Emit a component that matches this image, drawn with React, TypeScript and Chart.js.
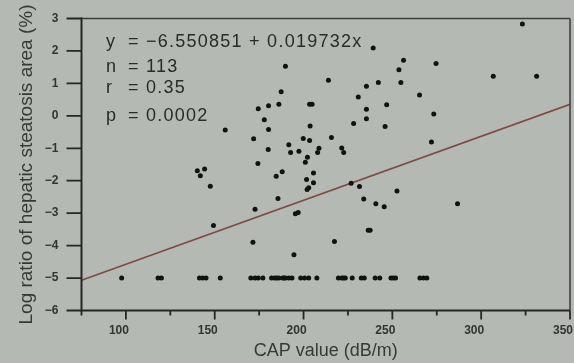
import React, { useEffect, useRef } from "react";
import { Chart, registerables } from "chart.js";

Chart.register(...registerables);

// CAP value (dB/m) and log ratio for patients with measurable steatosis
const capAbove = [
  323.2, 239.2, 256.3, 274.6, 189.8, 253.7, 306.8, 331.2, 214.0, 242.1,
  254.8, 235.4, 187.4, 265.3, 230.8, 186.1, 180.3, 174.5, 203.4, 204.8,
  246.8, 235.4, 273.3, 235.4, 177.9, 228.2, 203.7, 245.9, 155.9, 180.3,
  171.9, 199.8, 215.7, 203.4, 272.0, 191.7, 208.7, 221.5, 180.1, 192.7,
  197.4, 207.9, 222.6, 202.2, 201.0, 174.3, 144.3, 140.2, 141.9, 188.0,
  184.6, 205.6, 201.7, 205.6, 202.9, 202.0, 226.8, 231.5, 147.5, 252.6,
  185.6, 233.9, 240.7, 286.7, 245.4, 172.7, 195.4, 197.0, 149.3, 236.4,
  237.5, 171.5, 217.4, 194.6,
];
const ratioAbove = [
  2.83, 2.09, 1.71, 1.61, 1.53, 1.42, 1.22, 1.22, 1.1, 1.03,
  1.03, 0.91, 0.74, 0.64, 0.58, 0.36, 0.31, 0.22, 0.36, 0.36,
  0.34, 0.2, 0.06, -0.09, -0.12, -0.24, -0.31, -0.33, -0.44, -0.42,
  -0.71, -0.7, -0.67, -0.76, -0.81, -0.89, -1.0, -0.99, -1.04, -1.13,
  -1.09, -1.13, -1.13, -1.28, -1.43, -1.47, -1.64, -1.69, -1.85, -1.72,
  -1.86, -1.76, -1.96, -2.06, -2.22, -2.27, -2.08, -2.18, -2.17, -2.32,
  -2.55, -2.56, -2.71, -2.71, -2.8, -2.88, -3.02, -2.98, -3.38, -3.53,
  -3.53, -3.9, -3.87, -4.28,
];

// patients sitting on the lower detection floor
const capAtFloor = [
  97.6, 118.1, 120.0, 141.4, 143.2, 145.1, 153.1, 170.3, 172.7, 174.5,
  177.1, 182.0, 183.8, 184.9, 186.1, 188.3, 189.0, 189.8, 191.7, 193.5,
  198.4, 200.6, 202.9, 207.5, 219.6, 221.5, 222.5, 223.5, 227.4, 232.5,
  234.2, 240.3, 242.9, 249.2, 250.5, 251.8, 265.5, 267.5, 269.4,
];
const ratioAtFloor = [
  -5, -5, -5, -5, -5, -5, -5, -5, -5, -5,
  -5, -5, -5, -5, -5, -5, -5, -5, -5, -5,
  -5, -5, -5, -5, -5, -5, -5, -5, -5, -5,
  -5, -5, -5, -5, -5, -5, -5, -5, -5,
];

const xRange = [75, 350];
const yRange = [-6, 3];

const INTERCEPT = -6.550851;
const SLOPE = 0.019732;

const statNames = ["y", "n", "r", "p"];
const statTexts = ["= \u22126.550851 + 0.019732x", "= 113", "= 0.35", "= 0.0002"];

const W = 574;
const H = 363;
const BG = "rgb(181,185,179)";
const INK = "#262626";
const FONT = "'Liberation Sans', Arial, sans-serif";

const fitLine = xRange.map((x) => ({ x, y: INTERCEPT + SLOPE * x }));

const points = capAbove
  .map((x, i) => ({ x, y: ratioAbove[i] }))
  .concat(capAtFloor.map((x, i) => ({ x, y: ratioAtFloor[i] })));

const paperPlugin = {
  id: "paper",
  beforeDraw(chart: any) {
    const { ctx, width, height } = chart;
    ctx.save();
    ctx.fillStyle = BG;
    ctx.fillRect(0, 0, width, height);
    ctx.restore();
  },
  afterDatasetsDraw(chart: any) {
    const { ctx, chartArea } = chart;
    const { left, right, top, bottom } = chartArea;
    const xs = chart.scales.x;
    const ys = chart.scales.y;
    ctx.save();

    // frame
    ctx.strokeStyle = "#3c3c3c";
    ctx.lineWidth = 1.5;
    ctx.beginPath();
    ctx.moveTo(left, top);
    ctx.lineTo(right, top);
    ctx.moveTo(right, top);
    ctx.lineTo(right, bottom);
    ctx.stroke();
    ctx.strokeStyle = INK;
    ctx.lineWidth = 2;
    ctx.beginPath();
    ctx.moveTo(left, top - 1);
    ctx.lineTo(left, bottom + 1);
    ctx.moveTo(left - 1, bottom);
    ctx.lineTo(right, bottom);
    ctx.stroke();

    // tick marks
    ctx.lineWidth = 1.8;
    ctx.beginPath();
    xs.ticks.forEach((t: any) => {
      const px = xs.getPixelForValue(t.value);
      const len = t.value % 50 === 0 ? 9 : 5;
      ctx.moveTo(px, bottom);
      ctx.lineTo(px, bottom + len);
    });
    ys.ticks.forEach((t: any) => {
      const py = ys.getPixelForValue(t.value);
      ctx.moveTo(left - 15, py);
      ctx.lineTo(left, py);
    });
    ctx.stroke();

    // regression statistics
    ctx.fillStyle = "#2a2a2a";
    ctx.font = `18px ${FONT}`;
    ctx.textBaseline = "alphabetic";
    ctx.textAlign = "left";
    (ctx as any).letterSpacing = "1.25px";
    const baselines = [46.7, 71.7, 93.3, 121];
    statNames.forEach((name, i) => {
      ctx.fillText(name, 106, baselines[i]);
      ctx.fillText(statTexts[i], 128, baselines[i]);
    });
    ctx.restore();
  },
};

export default function App() {
  const ref = useRef<HTMLCanvasElement>(null);

  useEffect(() => {
    document.body.style.margin = "0";
    document.body.style.background = BG;
    const chart = new Chart(ref.current as HTMLCanvasElement, {
      type: "scatter",
      data: {
        datasets: [
          {
            label: "patients",
            data: points,
            pointRadius: 2.5,
            pointBorderWidth: 0,
            pointBackgroundColor: "#121212",
            pointBorderColor: "#121212",
          },
          {
            label: "fit",
            type: "line",
            data: fitLine,
            borderColor: "#7e4a43",
            borderWidth: 1.6,
            pointRadius: 0,
            fill: false,
          } as any,
        ],
      },
      options: {
        animation: false,
        responsive: false,
        events: [],
        layout: { padding: { top: 18.5, right: 0.5, bottom: 0, left: 0 } },
        plugins: {
          legend: { display: false },
          tooltip: { enabled: false },
        },
        scales: {
          x: {
            type: "linear",
            position: "bottom",
            min: xRange[0],
            max: xRange[1],
            grid: {
              display: true,
              drawOnChartArea: false,
              drawTicks: true,
              tickLength: 9,
              color: "rgba(0,0,0,0)",
            },
            border: { display: false },
            ticks: {
              stepSize: 25,
              autoSkip: false,
              maxRotation: 0,
              padding: 4,
              labelOffset: -7,
              color: "#333",
              font: { family: FONT, size: 12, weight: "bold" },
              callback: (v: any) => (Number(v) % 50 === 0 ? String(v) : ""),
            },
            title: {
              display: true,
              text: "CAP value (dB/m)",
              color: "#383838",
              font: { family: FONT, size: 18 },
              padding: { top: 0, bottom: 1.5 },
            },
            afterFit: (s: any) => {
              s.height = 52.5;
              s.paddingLeft = 0;
              s.paddingRight = 0;
            },
          },
          y: {
            type: "linear",
            min: yRange[0],
            max: yRange[1],
            grid: {
              display: true,
              drawOnChartArea: false,
              drawTicks: true,
              tickLength: 15,
              color: "rgba(0,0,0,0)",
            },
            border: { display: false },
            ticks: {
              stepSize: 1,
              padding: 8,
              color: "#333",
              font: { family: FONT, size: 12, weight: "bold" },
              callback: (v: any) =>
                Number(v) < 0 ? "\u2212" + Math.abs(Number(v)) : String(v),
            },
            title: {
              display: true,
              text: "Log ratio of hepatic steatosis area (%)",
              color: "#383838",
              font: { family: FONT, size: 19 },
              padding: { top: 15.5, bottom: 0 },
            },
            afterFit: (s: any) => {
              s.width = 81.5;
              s.paddingTop = 0;
              s.paddingBottom = 0;
            },
          },
        },
      } as any,
      plugins: [paperPlugin],
    });
    return () => chart.destroy();
  }, []);

  return (
    <div
      style={{
        position: "fixed",
        left: 0,
        top: 0,
        width: W,
        height: H,
        background: BG,
      }}
    >
      <canvas
        ref={ref}
        width={W}
        height={H}
        style={{ display: "block", width: W, height: H }}
      />
    </div>
  );
}
